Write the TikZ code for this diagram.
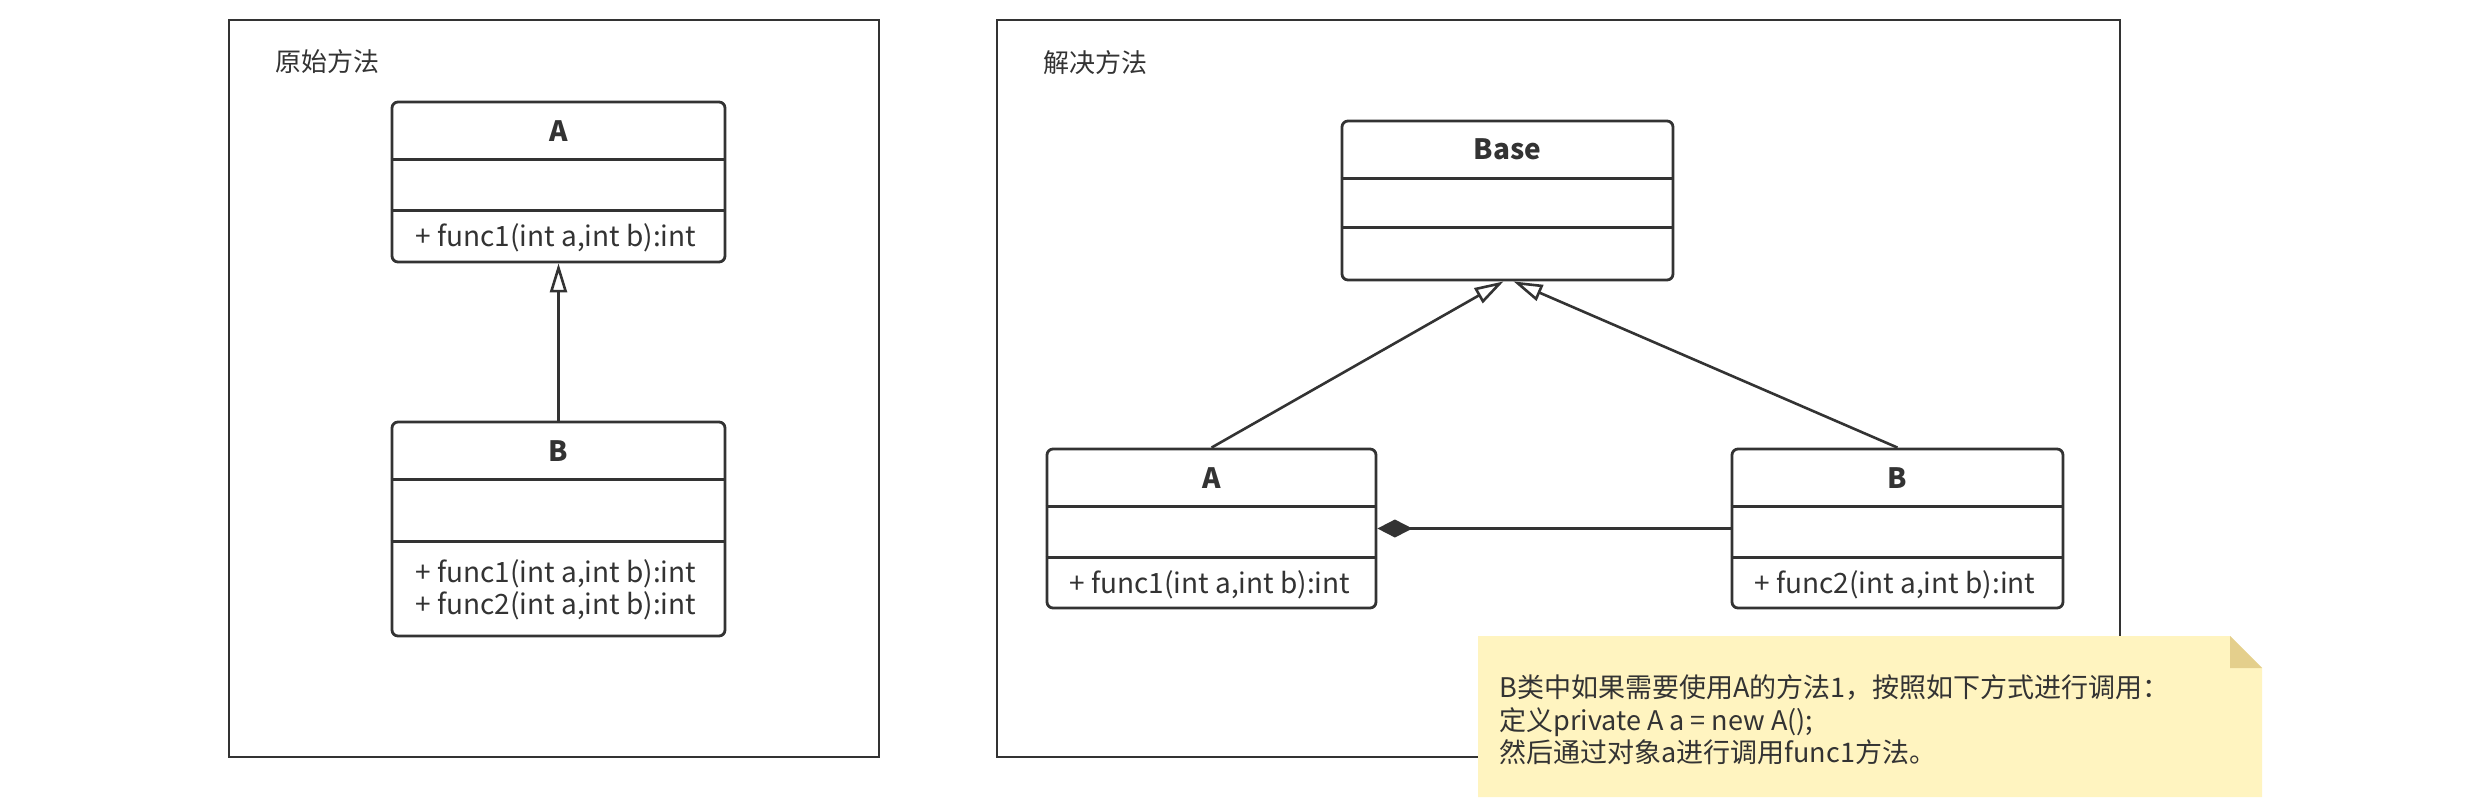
\documentclass[tikz,border=0pt]{standalone}
\usepackage{fontspec}
\setmainfont{Noto Sans CJK SC}
\usetikzlibrary{arrows.meta,fit}
\definecolor{ln}{HTML}{333333}
\definecolor{notefill}{HTML}{FFF4C0}
\definecolor{notefold}{HTML}{E4CF8C}
\begin{document}
\begin{tikzpicture}[x=0.5pt,y=-0.5pt,
  frame/.style={draw=ln, line width=1.4pt},
  cls/.style={draw=ln, rounded corners=3pt, inner sep=0pt, line width=1.4pt},
  divider/.style={draw=ln, line width=1.4pt},
  cname/.style={font=\fontsize{14}{17}\selectfont\bfseries, text=ln, inner sep=0pt},
  meth/.style={font=\fontsize{14}{16.25}\selectfont, text=ln, inner sep=0pt, anchor=west, align=left},
  ttl/.style={font=\fontsize{13}{16}\selectfont, text=ln, anchor=west, inner sep=0pt},
  inh/.style={draw=ln, line width=1.3pt, -{Triangle[open,length=14.5pt,width=8.5pt]}},
  comp/.style={draw=ln, line width=1.3pt, -{Diamond[length=17.5pt,width=9pt,fill=ln]}},
  notetext/.style={font=\fontsize{13.5}{16.25}\selectfont, text=ln, inner sep=0pt, anchor=west, align=left}
]
\useasboundingbox (0,0) rectangle (2470,810);
\fill[white] (0,0) rectangle (2470,810);

% frames
\draw[frame] (229,20) rectangle (879,757);
\draw[frame] (997,20) rectangle (2120,757);
\node[ttl] (t1) at (275,62) {原始方法};
\node[ttl] (t2) at (1043,63) {解决方法};

% left A
\node[cls, fit={(392,102) (725,262)}] (lA) {};
\draw[divider] ([yshift=-29.5pt]lA.north west) -- ([yshift=-29.5pt]lA.north east);
\draw[divider] ([yshift=-55pt]lA.north west) -- ([yshift=-55pt]lA.north east);
\node[cname] (lAn) at ([yshift=-15pt]lA.north) {A};
\node[meth] (lAm) at (415,238) {+ func1(int a,int b):int};

% left B
\node[cls, fit={(392,422) (725,636)}] (lB) {};
\draw[divider] ([yshift=-29.5pt]lB.north west) -- ([yshift=-29.5pt]lB.north east);
\draw[divider] ([yshift=-60.5pt]lB.north west) -- ([yshift=-60.5pt]lB.north east);
\node[cname] (lBn) at ([yshift=-15pt]lB.north) {B};
\node[meth] (lBm) at (415,590) {+ func1(int a,int b):int\\+ func2(int a,int b):int};

\draw[inh] (lB.north) -- (lA.south);

% Base
\node[cls, fit={(1342,121) (1673,280)}] (base) {};
\draw[divider] ([yshift=-29.5pt]base.north west) -- ([yshift=-29.5pt]base.north east);
\draw[divider] ([yshift=-54pt]base.north west) -- ([yshift=-54pt]base.north east);
\node[cname] (basen) at ([yshift=-15pt]base.north) {Base};

% right A
\node[cls, fit={(1047,449) (1376,608)}] (rA) {};
\draw[divider] ([yshift=-29.5pt]rA.north west) -- ([yshift=-29.5pt]rA.north east);
\draw[divider] ([yshift=-55pt]rA.north west) -- ([yshift=-55pt]rA.north east);
\node[cname] (rAn) at ([yshift=-15pt]rA.north) {A};
\node[meth] (rAm) at (1069,585) {+ func1(int a,int b):int};

% right B
\node[cls, fit={(1732,449) (2063,608)}] (rB) {};
\draw[divider] ([yshift=-29.5pt]rB.north west) -- ([yshift=-29.5pt]rB.north east);
\draw[divider] ([yshift=-55pt]rB.north west) -- ([yshift=-55pt]rB.north east);
\node[cname] (rBn) at ([yshift=-15pt]rB.north) {B};
\node[meth] (rBm) at (1754,585) {+ func2(int a,int b):int};

\draw[inh] (rA.north) -- ([xshift=-2pt]base.south);
\draw[inh] (rB.north) -- ([xshift=3pt]base.south);
\draw[comp] (rB.west) -- (rA.east);

% note
\fill[notefill] (1478,636) -- (2230,636) -- (2262,668) -- (2262,797) -- (1478,797) -- cycle;
\fill[notefold] (2230,636) -- (2262,668) -- (2230,668) -- cycle;
\node[notetext] (note) at (1499,720) {B类中如果需要使用A的方法1，按照如下方式进行调用：\\定义private A a = new A();\\然后通过对象a进行调用func1方法。};
\end{tikzpicture}
\end{document}
